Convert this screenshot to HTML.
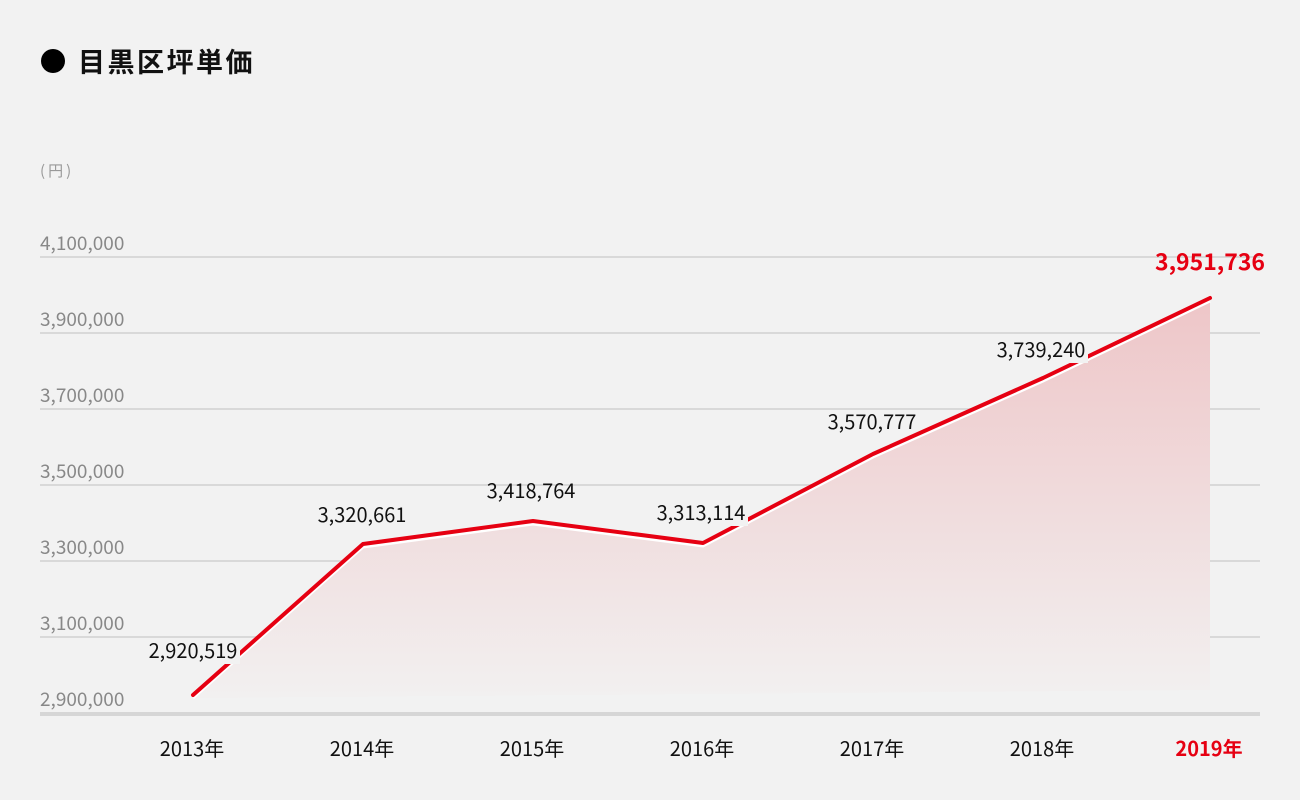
<!DOCTYPE html>
<html><head><meta charset="utf-8"><style>
html,body{margin:0;padding:0;background:#f2f2f2;}
svg{display:block;font-family:"Noto Sans CJK JP","Liberation Sans",sans-serif;}
</style></head><body>
<svg width="1300" height="800" viewBox="0 0 1300 800">
<defs>
<linearGradient id="g" x1="0" y1="0" x2="0" y2="1">
<stop offset="0" stop-color="#eec6c8"/>
<stop offset="1" stop-color="#f2f0f0"/>
</linearGradient>
</defs>
<rect width="1300" height="800" fill="#f2f2f2"/>
<circle cx="53" cy="61" r="12" fill="#000"/>
<text x="78" y="72" font-size="27" font-weight="bold" fill="#111" letter-spacing="2.5">目黒区坪単価</text>
<text x="40" y="176" font-size="15" fill="#999" letter-spacing="3">(円)</text>
<g stroke="#d9d9d9" stroke-width="2">
<line x1="40" y1="257" x2="1260" y2="257"/>
<line x1="40" y1="333" x2="1260" y2="333"/>
<line x1="40" y1="409" x2="1260" y2="409"/>
<line x1="40" y1="485" x2="1260" y2="485"/>
<line x1="40" y1="561" x2="1260" y2="561"/>
<line x1="40" y1="637" x2="1260" y2="637"/>
</g>
<line x1="40" y1="714" x2="1260" y2="714" stroke="#d6d6d6" stroke-width="4"/>
<g font-size="19" fill="#888">
<text x="40" y="250">4,100,000</text>
<text x="40" y="326">3,900,000</text>
<text x="40" y="402">3,700,000</text>
<text x="40" y="478">3,500,000</text>
<text x="40" y="554">3,300,000</text>
<text x="40" y="630">3,100,000</text>
<text x="40" y="706">2,900,000</text>
</g>
<polygon points="193,698 363,547 533,524 703,546 873,457 1043,381 1210,301 1210,690 193,698" fill="url(#g)"/>
<polyline points="193,698 363,547 533,524 703,546 873,457 1043,381 1210,301" fill="none" stroke="#fff" stroke-width="3"/>
<polyline points="193,695 363,544 533,521 703,543 873,454 1043,378 1210,298" fill="none" stroke="#e60012" stroke-width="4" stroke-linejoin="round" stroke-linecap="round"/>
<g font-size="20" fill="#111" text-anchor="middle">
<rect x="146" y="638" width="94" height="26" fill="#f2f2f2"/>
<text x="193" y="658">2,920,519</text>
<text x="362" y="522">3,320,661</text>
<text x="531" y="498">3,418,764</text>
<rect x="654" y="500" width="94" height="26" fill="#f2f2f2"/>
<text x="701" y="520">3,313,114</text>
<text x="872" y="429">3,570,777</text>
<rect x="994" y="337" width="94" height="26" fill="#f2f2f2"/>
<text x="1041" y="357">3,739,240</text>
</g>
<text x="1210" y="270" font-size="23" font-weight="bold" fill="#e60012" text-anchor="middle">3,951,736</text>
<g font-size="20" fill="#111" text-anchor="middle">
<text x="192" y="756">2013年</text>
<text x="362" y="756">2014年</text>
<text x="532" y="756">2015年</text>
<text x="702" y="756">2016年</text>
<text x="872" y="756">2017年</text>
<text x="1042" y="756">2018年</text>
<text x="1209" y="756" fill="#e60012" font-weight="bold">2019年</text>
</g>
</svg>
</body></html>
